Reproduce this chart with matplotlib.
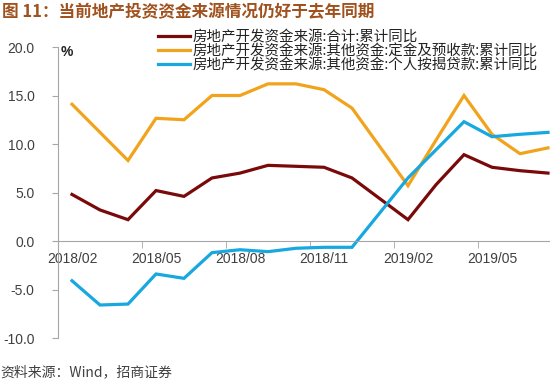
import matplotlib
matplotlib.use('Agg')
import matplotlib.pyplot as plt
from matplotlib.ticker import FixedLocator, FixedFormatter, NullFormatter

# ---- data ----
months = ['2018/02', '2018/03', '2018/04', '2018/05', '2018/06', '2018/07',
          '2018/08', '2018/09', '2018/10', '2018/11', '2018/12',
          '2019/02', '2019/03', '2019/04', '2019/05', '2019/06', '2019/07']
total = [4.8, 3.2, 2.2, 5.2, 4.6, 6.5, 7.0, 7.8, 7.7, 7.6, 6.5,
         2.2, 5.8, 8.9, 7.6, 7.25, 7.0]
deposits = [14.1, 11.2, 8.3, 12.65, 12.5, 15.0, 15.0, 16.2, 16.2, 15.6, 13.7,
            5.7, 10.4, 15.0, 11.0, 9.0, 9.6]
mortgage = [-4.1, -6.6, -6.5, -3.4, -3.85, -1.2, -0.9, -1.1, -0.75, -0.65, -0.65,
            6.5, 9.4, 12.3, 10.75, 11.0, 11.2]
tick_labels = ['2018/02', '2018/05', '2018/08', '2018/11', '2019/02', '2019/05']
series_names = ['房地产开发资金来源:合计:累计同比',
                '房地产开发资金来源:其他资金:定金及预收款:累计同比',
                '房地产开发资金来源:其他资金:个人按揭贷款:累计同比']
colors = ['#7A0A0A', '#F2A31C', '#16A8DF']


def month_index(m):
    y, mo = m.split('/')
    return (int(y) - 2018) * 12 + int(mo) - 2


x = [month_index(m) for m in months]
tick_pos = [month_index(m) for m in tick_labels]

plt.rcParams['font.family'] = ['Noto Sans CJK SC', 'DejaVu Sans']

W, H = 550, 389
fig = plt.figure(figsize=(W / 100, H / 100), dpi=100)
ax = fig.add_axes([58 / W, 51 / H, (562 - 58) / W, 291 / H])

for vals, name, c in zip([total, deposits, mortgage], series_names, colors):
    ax.plot(x, vals, color=c, lw=2.3, label=name, solid_joinstyle='miter')

ax.set_xlim(-0.5, 17.5)
ax.set_ylim(-10, 20)

grey = '#A6A6A6'
for s in ['top', 'right']:
    ax.spines[s].set_visible(False)
ax.spines['left'].set_color(grey)
ax.spines['bottom'].set_color(grey)
ax.spines['bottom'].set_position(('data', 0))

yt = [-10, -5, 0, 5, 10, 15, 20]
ax.set_yticks(yt)
ax.set_yticklabels(['%.1f' % v for v in yt], family=['Liberation Sans'], fontsize=10, color='#404040')
ax.tick_params(axis='y', direction='out', length=4, color=grey, pad=13)

ax.xaxis.set_major_locator(FixedLocator(tick_pos))
ax.xaxis.set_major_formatter(FixedFormatter(tick_labels))
ax.xaxis.set_minor_locator(FixedLocator([p - 0.5 for p in tick_pos[1:]]))
ax.xaxis.set_minor_formatter(NullFormatter())
ax.tick_params(axis='x', which='major', length=0, pad=8, labelsize=10, labelcolor='#404040')
ax.tick_params(axis='x', which='minor', direction='out', length=5, color=grey)
for lab in ax.get_xticklabels():
    lab.set_family(['Liberation Sans'])

ax.text(-0.39, 19.5, '%', fontsize=10, fontweight='bold', family=['Liberation Sans'],
        ha='left', va='center', color='#222222')

leg = ax.legend(loc='upper left', bbox_to_anchor=(158 / W, 1 - 30 / H),
                bbox_transform=fig.transFigure, frameon=False, fontsize=10.45,
                handlelength=2.2, handletextpad=0.15, labelspacing=0.0,
                borderpad=0, borderaxespad=0)
for t in leg.get_texts():
    t.set_color('#222222')

fig.text(2 / W, 1 - 12 / H, '图 11：当前地产投资资金来源情况仍好于去年同期',
         fontsize=12, fontweight='bold', color='#A0521E', ha='left', va='center')
fig.text(0, 1 - 372 / H, '资料来源：Wind，招商证券', fontsize=10, color='#404040',
         ha='left', va='center')

fig.savefig('out.png', dpi=100)
